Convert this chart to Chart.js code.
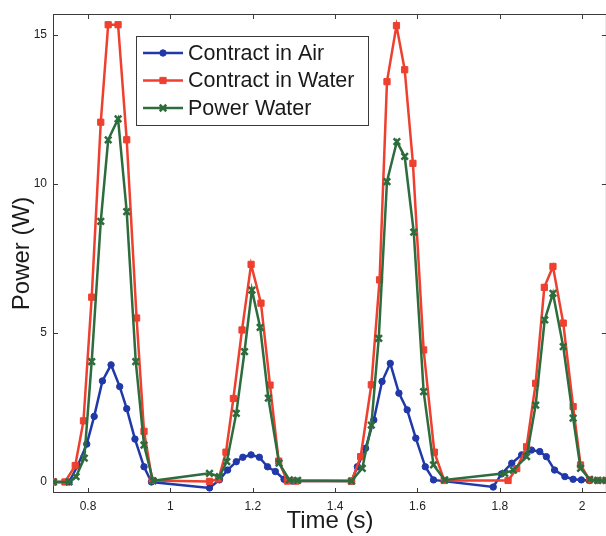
<!DOCTYPE html>
<html>
<head>
<meta charset="utf-8">
<script src="https://cdn.jsdelivr.net/npm/chart.js@4.4.1/dist/chart.umd.min.js"></script>
<style>
  html, body { margin: 0; padding: 0; background: #fff; overflow: hidden; }
  #wrap { width: 606px; height: 536px; overflow: hidden; position: relative; }
  #chart { display: block; }
</style>
</head>
<body>
<div id="wrap"><canvas id="chart" width="614" height="536"></canvas></div>
<script>
// Contract in Air (blue)
const airTime = [0.716, 0.754, 0.775, 0.797, 0.815, 0.835, 0.856, 0.877, 0.894, 0.914, 0.936, 0.954,
  1.095, 1.119, 1.139, 1.160, 1.176, 1.196, 1.216, 1.236, 1.255, 1.276, 1.296,
  1.440, 1.454, 1.474, 1.494, 1.514, 1.534, 1.555, 1.575, 1.596, 1.619, 1.639,
  1.784, 1.804, 1.829, 1.853, 1.877, 1.897, 1.913, 1.933, 1.958, 1.978, 1.998, 2.018, 2.038, 2.058];
const airPower = [0, 0, 0.55, 1.27, 2.2, 3.39, 3.93, 3.2, 2.46, 1.44, 0.51, 0.0,
  -0.2, 0.07, 0.4, 0.68, 0.83, 0.91, 0.83, 0.51, 0.35, 0.09, 0.03,
  0.03, 0.51, 1.13, 2.08, 3.37, 3.98, 2.98, 2.42, 1.47, 0.51, 0.07,
  -0.17, 0.27, 0.63, 0.91, 1.07, 1.02, 0.85, 0.4, 0.18, 0.09, 0.07, 0.05, 0.05, 0.05];

// Contract in Water (red)
const waterTime = [0.716, 0.744, 0.769, 0.789, 0.809, 0.831, 0.849, 0.873, 0.894, 0.918, 0.936, 0.956,
  1.095, 1.117, 1.135, 1.153, 1.174, 1.196, 1.220, 1.242, 1.263, 1.284, 1.305,
  1.440, 1.462, 1.488, 1.508, 1.526, 1.549, 1.569, 1.589, 1.615, 1.641, 1.665,
  1.820, 1.841, 1.865, 1.887, 1.908, 1.929, 1.954, 1.978, 1.996, 2.018, 2.038, 2.058];
const waterPower = [0, 0, 0.55, 2.05, 6.2, 12.07, 15.34, 15.34, 11.48, 5.5, 1.7, 0.05,
  0.02, 0.1, 1.0, 2.8, 5.1, 7.3, 6.0, 3.25, 0.7, 0.03, 0.03,
  0.03, 0.85, 3.26, 6.78, 13.43, 15.31, 13.83, 10.69, 4.43, 1.0, 0.05,
  0.05, 0.45, 1.18, 3.31, 6.53, 7.23, 5.33, 2.53, 0.57, 0.07, 0.05, 0.05];

// Power Water (green)
const powerTime = [0.716, 0.754, 0.771, 0.791, 0.809, 0.831, 0.849, 0.873, 0.894, 0.916, 0.936, 0.958,
  1.095, 1.119, 1.137, 1.160, 1.180, 1.198, 1.218, 1.238, 1.264, 1.289, 1.309,
  1.440, 1.466, 1.488, 1.506, 1.526, 1.550, 1.569, 1.591, 1.615, 1.639, 1.666,
  1.812, 1.833, 1.865, 1.887, 1.909, 1.929, 1.954, 1.978, 1.996, 2.018, 2.038, 2.058];
const powerWater = [0, 0, 0.18, 0.8, 4.04, 8.74, 11.48, 12.18, 9.07, 4.04, 1.24, 0.04,
  0.29, 0.18, 0.68, 2.3, 4.37, 6.44, 5.19, 2.81, 0.63, 0.07, 0.05,
  0.03, 0.46, 1.91, 4.82, 10.08, 11.42, 10.92, 8.38, 3.03, 0.57, 0.07,
  0.29, 0.4, 0.85, 2.58, 5.44, 6.33, 4.54, 2.14, 0.46, 0.09, 0.05, 0.05];

const seriesLabels = ['Contract in Air', 'Contract in Water', 'Power Water'];
const xTicks = [0.8, 1, 1.2, 1.4, 1.6, 1.8, 2];
const yTicks = [0, 5, 10, 15];

const FONT = '"Liberation Sans", Arial, Helvetica, sans-serif';
const AXIS = '#3a3a3a';

function toPoints(xs, ys) {
  return xs.map((x, i) => ({ x: x, y: ys[i] }));
}

// Box and inward ticks, MATLAB style
const frame = {
  id: 'frame',
  beforeDatasetsDraw(chart) {
    const { ctx, chartArea: a, scales: { x, y } } = chart;
    ctx.save();
    ctx.strokeStyle = AXIS;
    ctx.lineWidth = 1;
    ctx.strokeRect(a.left + 0.5, a.top + 0.5, a.right - a.left - 1, a.bottom - a.top - 1);
    ctx.beginPath();
    x.ticks.forEach(t => {
      const px = Math.round(x.getPixelForValue(t.value)) + 0.5;
      ctx.moveTo(px, a.bottom); ctx.lineTo(px, a.bottom - 5);
      ctx.moveTo(px, a.top); ctx.lineTo(px, a.top + 5);
    });
    y.ticks.forEach(t => {
      const py = Math.round(y.getPixelForValue(t.value)) + 0.5;
      ctx.moveTo(a.left, py); ctx.lineTo(a.left + 5, py);
      ctx.moveTo(a.right, py); ctx.lineTo(a.right - 5, py);
    });
    ctx.stroke();
    ctx.restore();
  }
};

// Legend box inside the plot, top left
const boxLegend = {
  id: 'boxLegend',
  afterDatasetsDraw(chart) {
    const ctx = chart.ctx;
    const bx = 136, by = 36, bw = 232, bh = 89;
    ctx.save();
    ctx.fillStyle = '#fff';
    ctx.fillRect(bx, by, bw, bh);
    ctx.strokeStyle = AXIS;
    ctx.lineWidth = 1;
    ctx.strokeRect(bx + 0.5, by + 0.5, bw, bh);
    chart.data.datasets.forEach((ds, i) => {
      const yy = 53 + i * 27.5;
      ctx.strokeStyle = ds.borderColor;
      ctx.lineWidth = ds.borderWidth;
      ctx.beginPath();
      ctx.moveTo(143, yy);
      ctx.lineTo(183, yy);
      ctx.stroke();
      ctx.fillStyle = ds.pointBackgroundColor;
      ctx.strokeStyle = ds.pointBorderColor;
      ctx.lineWidth = ds.pointBorderWidth;
      Chart.helpers.drawPoint(ctx, {
        pointStyle: ds.pointStyle, rotation: 0,
        radius: ds.pointRadius, borderWidth: ds.pointBorderWidth
      }, 163, yy);
      ctx.fillStyle = '#1a1a1a';
      ctx.font = '21.5px ' + FONT;
      ctx.textBaseline = 'middle';
      ctx.textAlign = 'left';
      ctx.fillText(ds.label, 188, yy + 1);
    });
    ctx.restore();
  }
};

function series(label, xs, ys, color, style, radius, pbw, order) {
  return {
    label: label,
    data: toPoints(xs, ys),
    borderColor: color,
    backgroundColor: color,
    borderWidth: 2.5,
    pointStyle: style,
    pointRadius: radius,
    pointBackgroundColor: color,
    pointBorderColor: color,
    pointBorderWidth: pbw,
    tension: 0,
    order: order
  };
}

new Chart(document.getElementById('chart'), {
  type: 'line',
  data: {
    datasets: [
      series(seriesLabels[0], airTime, airPower, '#2139a8', 'circle', 3.2, 1, 2),
      series(seriesLabels[1], waterTime, waterPower, '#ef3f2f', 'rect', 4.4, 1, 1),
      series(seriesLabels[2], powerTime, powerWater, '#2d6c3d', 'crossRot', 4.6, 2.5, 0)
    ]
  },
  options: {
    responsive: false,
    animation: false,
    events: [],
    // canvas is a bit wider than the window so the right axis falls just off screen
    layout: { padding: { top: 14, right: 4, left: 0, bottom: 0 } },
    plugins: { legend: { display: false }, tooltip: { enabled: false } },
    scales: {
      x: {
        type: 'linear',
        min: 0.715,
        max: 2.06,
        afterBuildTicks: s => { s.ticks = xTicks.map(v => ({ value: v })); },
        afterFit: s => { s.height = 43; },
        grid: { display: false, drawTicks: false },
        border: { display: false },
        ticks: {
          padding: 6,
          color: '#222',
          font: { family: FONT, size: 12 },
          maxRotation: 0,
          callback: v => String(v)
        },
        title: {
          display: true,
          text: 'Time (s)',
          color: '#1a1a1a',
          font: { family: FONT, size: 24 },
          padding: { top: 0, bottom: 0 }
        }
      },
      y: {
        min: -0.37,
        max: 15.7,
        afterBuildTicks: s => { s.ticks = yTicks.map(v => ({ value: v })); },
        afterFit: s => { s.width = 53; },
        grid: { display: false, drawTicks: false },
        border: { display: false },
        ticks: {
          padding: 6,
          color: '#222',
          font: { family: FONT, size: 12 },
          callback: v => String(v)
        },
        title: {
          display: true,
          text: 'Power (W)',
          color: '#1a1a1a',
          font: { family: FONT, size: 24 },
          padding: { top: 8, bottom: 0 }
        }
      }
    }
  },
  plugins: [frame, boxLegend]
});
</script>
</body>
</html>
